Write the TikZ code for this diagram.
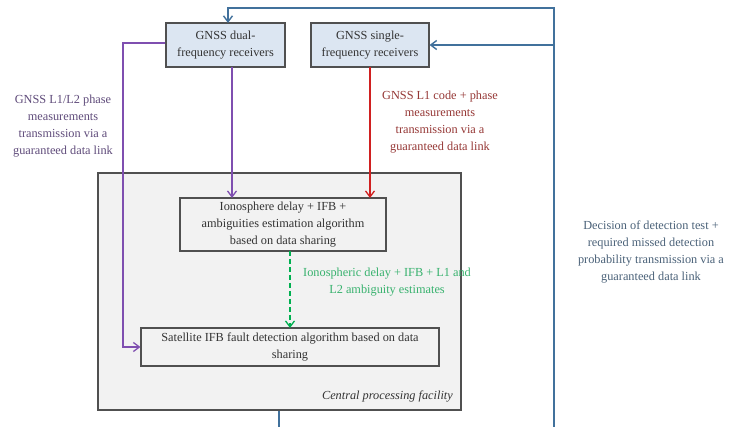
\documentclass[tikz,border=0pt]{standalone}
\usepackage{fontspec}
\setmainfont{Liberation Serif}
\usetikzlibrary{arrows.meta}
\definecolor{boxblue}{HTML}{DCE6F2}
\definecolor{boxgray}{HTML}{F2F2F2}
\definecolor{edge}{HTML}{505050}
\definecolor{linkblue}{HTML}{41719C}
\definecolor{txtblue}{HTML}{4A6178}
\definecolor{linkpurple}{HTML}{7F4FB0}
\definecolor{txtpurple}{HTML}{5F4B7A}
\definecolor{linkred}{HTML}{D02020}
\definecolor{txtred}{HTML}{953735}
\definecolor{linkgreen}{HTML}{00B050}
\definecolor{txtgreen}{HTML}{38B26E}
\tikzset{
  x=1pt, y=-1pt,
  every node/.style={font=\fontsize{12.3}{17.2}\selectfont, inner sep=0pt, text=black!80},
  rxbox/.style={draw=edge, line width=1.1pt, fill=boxblue, align=center},
  algbox/.style={draw=edge, line width=1.1pt, fill=boxgray, align=center},
  lbl/.style={align=center},
  arr/.style={-{Straight Barb[length=6pt,width=9pt]}, line width=1.3pt},
}
\begin{document}
\begin{tikzpicture}
\useasboundingbox (0,0) rectangle (732,427);
% central facility
\node[draw=edge, line width=1.1pt, fill=boxgray, minimum width=363pt, minimum height=237pt] (cpf) at (279.5,291.5) {};
\node[anchor=south east, font=\fontsize{12.3}{14}\selectfont\itshape] (cpflbl) at (453,402) {Central processing facility};
% receivers
\node[rxbox, minimum width=119pt, minimum height=44pt] (dual) at (225.5,45) {GNSS dual-\\frequency receivers};
\node[rxbox, minimum width=118pt, minimum height=44pt] (single) at (370,45) {GNSS single-\\frequency receivers};
% algorithms
\node[algbox, minimum width=206pt, minimum height=53pt] (iono) at (283,224.5) {Ionosphere delay + IFB +\\ambiguities estimation algorithm\\based on data sharing};
\node[algbox, minimum width=298pt, minimum height=38pt] (sat) at (290,347) {Satellite IFB fault detection algorithm based on data\\sharing};
% labels
\node[lbl, text=txtpurple] (lblp) at (63,126) {GNSS L1/L2 phase\\measurements\\transmission via a\\guaranteed data link};
\node[lbl, text=txtred] (lblr) at (440,122) {GNSS L1 code + phase\\measurements\\transmission via a\\guaranteed data link};
\node[lbl, text=txtgreen] (lblg) at (387,282) {Ionospheric delay + IFB + L1 and\\L2 ambiguity estimates};
\node[lbl, text=txtblue] (lblb) at (651,252) {Decision of detection test +\\required missed detection\\probability transmission via a\\guaranteed data link};
% coordinates for blue feedback
\coordinate (bl1) at (554,427);
\coordinate (bl2) at (554,8);
\coordinate (bl3) at (228,8);
\coordinate (bl4) at (554,45);
\coordinate (bb1) at (279,427);
% connectors
\draw[arr, linkpurple] (dual.west |- 0,43) -| (123,347) -- (sat.west);
\draw[arr, linkpurple] (232,67) -- (232,198);
\draw[arr, linkred] (370,67) -- (370,198);
\draw[arr, linkgreen, dashed, dash pattern=on 5pt off 3pt] (290,251) -- (290,328);
\draw[linkblue, line width=1.4pt] (cpf.south -| bb1) -- (bb1);
\draw[arr, linkblue, line width=1.4pt] (bl1) -- (bl2) -- (bl3) -- (228,23);
\draw[arr, linkblue, line width=1.4pt] (bl4) -- (single.east);
\end{tikzpicture}
\end{document}
